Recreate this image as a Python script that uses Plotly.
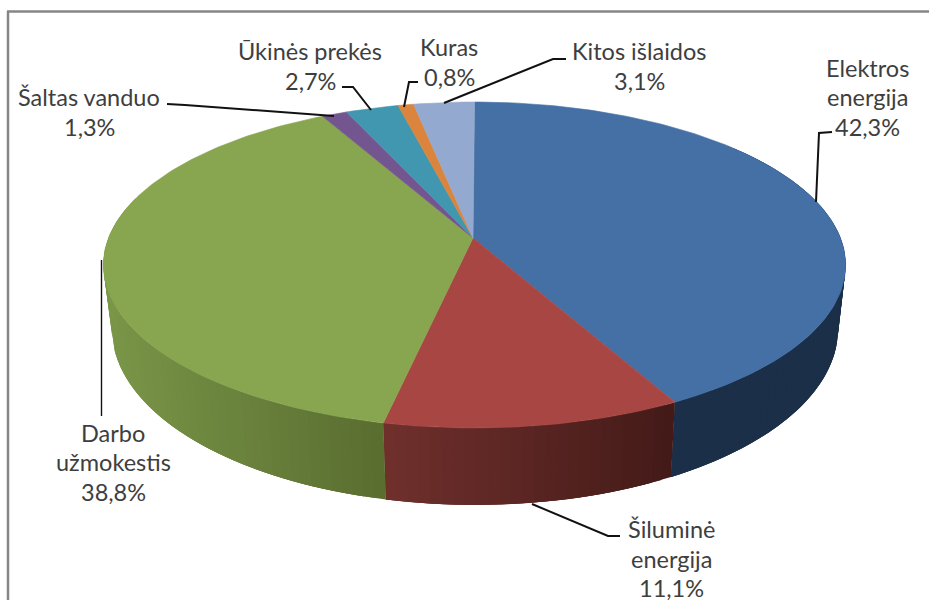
import math
import plotly.graph_objects as go

# --- data ---
categories = ["Elektros<br>energija", "Šiluminė<br>energija", "Darbo<br>užmokestis",
              "Šaltas vanduo", "Ūkinės prekės", "Kuras", "Kitos išlaidos"]
values = [42.3, 11.1, 38.8, 1.3, 2.7, 0.8, 3.1]

# --- styles ---
top_colors = ["#4470A5", "#A84644", "#88A54F", "#735590", "#4097AF", "#DB843D", "#93A9CF"]
side_left = ["#1B2F48", "#70302C", "#7A9648", "#735590", "#4097AF", "#DB843D", "#93A9CF"]
side_right = ["#1B2F48", "#431A18", "#596D30", "#735590", "#4097AF", "#DB843D", "#93A9CF"]
TEXT = "#3E3E3E"
FONT = "Lato"
FONT_SIZE = 23.5
LINE_STEP = 29.5
label_centers = [(867, 97), (671, 558.5), (113, 462), (89, 112), (310, 66), (449, 62), (639, 66)]
leaders = [
    [(832, 132), (819, 133), (816, 202)],
    [(620, 536), (608, 536), (532, 504)],
    [(101.5, 260), (101.5, 416)],
    [(167, 104), (185, 105), (334, 116)],
    [(342, 87), (353, 87), (371, 110)],
    [(418, 82), (409, 82), (404, 107)],
    [(566, 59), (553, 59), (444, 103)],
]

# --- perspective projection of the disc ---
APEX_X, TOP_X, TOP_Y, TOP_A, TOP_B = 473.0, 474.5, 238.0, 366.0, 158.5
BASE_X, BASE_Y, BASE_A, BASE_B = 475.0, 300.0, 358.0, 171.0
K = 0.1656


def project(theta, x0, y0, a, b):
    s, c = math.sin(theta), math.cos(theta)
    w = 1 + K * c
    return x0 + a * s / w, y0 - b * c / w


def top(t):
    return project(t, TOP_X, TOP_Y, TOP_A, TOP_B)


def base(t):
    return project(t, BASE_X, BASE_Y, BASE_A, BASE_B)


def mix(c1, c2, f):
    f = max(0.0, min(1.0, f))
    a = [int(c1[i:i + 2], 16) for i in (1, 3, 5)]
    b = [int(c2[i:i + 2], 16) for i in (1, 3, 5)]
    return "rgb(%d,%d,%d)" % tuple(round(p + (q - p) * f) for p, q in zip(a, b))


def poly(fig, pts, color, width=0.0):
    xs = [p[0] for p in pts] + [pts[0][0]]
    ys = [p[1] for p in pts] + [pts[0][1]]
    fig.add_trace(go.Scatter(x=xs, y=ys, mode="lines", fill="toself", fillcolor=color,
                             line=dict(color=color, width=width), hoverinfo="skip", showlegend=False))


def wall(t0, t1):
    n = max(2, int(abs(t1 - t0) / math.radians(0.7)))
    ts = [t0 + (t1 - t0) * j / n for j in range(n + 1)]
    return [top(t) for t in ts] + [base(t) for t in reversed(ts)]


fig = go.Figure()
total = sum(values)
edges = [0.0]
for v in values:
    edges.append(edges[-1] + v / total * 2 * math.pi)

# side wall: only the part facing the viewer; each band overlaps the next one to hide seams
LIMIT_A, LIMIT_B = math.radians(50), math.radians(285)
for i in range(7):
    a0, a1 = max(edges[i], LIMIT_A), min(edges[i + 1], LIMIT_B)
    if a1 <= a0:
        continue
    x_right = top(a0)[0]
    x_left = TOP_X - 371 if i == 2 else top(a1)[0]
    n = max(1, int((a1 - a0) / math.radians(1.5)))
    for j in range(n):
        t0 = a0 + (a1 - a0) * j / n
        t1 = min(a1, t0 + 3 * (a1 - a0) / n)
        mx = top(t0 + 0.5 * (a1 - a0) / n)[0]
        f = (x_right - mx) / max(1.0, x_right - x_left)
        poly(fig, wall(t0, t1), mix(side_right[i], side_left[i], f))

# top face
for i in range(7):
    n = max(3, int((edges[i + 1] - edges[i]) / math.radians(1)))
    pts = [(APEX_X, TOP_Y)]
    pts += [top(edges[i] + (edges[i + 1] - edges[i]) * j / n) for j in range(n + 1)]
    poly(fig, pts, top_colors[i], 0.6)

# leader lines
for seg, w in zip(leaders, [2, 2, 1.4, 2, 2, 2, 2]):
    fig.add_trace(go.Scatter(x=[p[0] for p in seg], y=[p[1] for p in seg], mode="lines",
                             line=dict(color="#111111", width=w), hoverinfo="skip", showlegend=False))

# labels, one annotation per text line
for name, v, (lx, ly) in zip(categories, values, label_centers):
    lines = name.split("<br>") + [f"{v:.1f}%".replace(".", ",")]
    for k, line in enumerate(lines):
        fig.add_annotation(x=lx, y=ly + (k - (len(lines) - 1) / 2) * LINE_STEP, xref="x", yref="y",
                           showarrow=False, xanchor="center", yanchor="middle", text=line,
                           font=dict(family=FONT, size=FONT_SIZE, color=TEXT))

# frame
frame = dict(type="line", xref="x", yref="y", line=dict(color="#868686", width=2.5))
fig.add_shape(x0=8, x1=8, y0=11, y1=600, **frame)
fig.add_shape(x0=7, x1=929, y0=11.5, y1=11.5, **frame)

fig.update_layout(
    width=929, height=600, margin=dict(l=0, r=0, t=0, b=0),
    paper_bgcolor="white", plot_bgcolor="white", showlegend=False,
    xaxis=dict(range=[0, 929], visible=False, fixedrange=True),
    yaxis=dict(range=[600, 0], visible=False, fixedrange=True),
)
fig.write_html("out.html", config={"displayModeBar": False},
               post_script="document.body.style.margin='0';document.body.style.overflow='hidden';")
